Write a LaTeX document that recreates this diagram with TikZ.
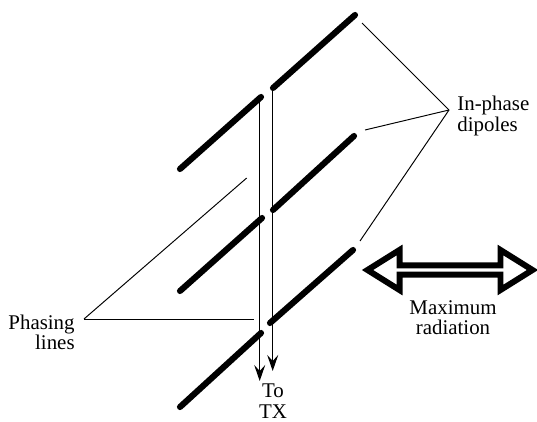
\documentclass[tikz,border=0pt]{standalone}
\usepackage{fontspec}
\setmainfont{Liberation Serif}
\usetikzlibrary{arrows.meta, shapes.arrows}

\begin{document}
\begin{tikzpicture}[
    x=0.02cm, y=-0.02cm,
    font=\fontsize{11.9}{11.6}\selectfont,
    dipole/.style={line width=3.5pt, line cap=round},
    feeder/.style={-{Stealth[length=0.32cm, width=0.22cm, inset=0.12cm]}, line width=0.75pt},
    leader/.style={line width=0.55pt},
    caption/.style={align=center, inner sep=0pt},
    radiation/.style={double arrow, draw, line width=3.4pt, fill=white, inner sep=0pt, minimum width=0.8cm, minimum height=3.3cm, double arrow head extend=0.2cm, double arrow tip angle=64}
]
\useasboundingbox (0,0) rectangle (537,422);

% Dipole ends
\coordinate (top1) at (180,169);
\coordinate (top2) at (261,97);
\coordinate (top3) at (273,88);
\coordinate (top4) at (355,15);
\coordinate (mid1) at (180,291);
\coordinate (mid2) at (262,218);
\coordinate (mid3) at (273,210);
\coordinate (mid4) at (354,136);
\coordinate (low1) at (180,407);
\coordinate (low2) at (261,333);
\coordinate (low3) at (270,323);
\coordinate (low4) at (353,250);

% Labels
\node[caption, anchor=west, align=left] (dipoles) at (457,116) {In-phase\\dipoles};
\node[caption, anchor=east, align=right] (phasing) at (75,332.5) {Phasing\\lines};
\node[caption] (max) at (453,317.5) {Maximum\\radiation};
\node[caption] (tx) at (273,401) {To\\TX};
\node[radiation] (beam) at (450,270) {};

% Leader ends
\coordinate (fork) at (449,110);
\coordinate (forkA) at (362,23);
\coordinate (forkB) at (365,130);
\coordinate (forkC) at (360,241);
\coordinate (phase) at (84,319);
\coordinate (phaseA) at (246.7,178);
\coordinate (phaseB) at (254,319);

% Feeder ends
\coordinate (feedA) at (259.7,381);
\coordinate (feedB) at (272.7,371);
\coordinate (feedA0) at (259.7,97);
\coordinate (feedB0) at (272.7,88);

% Feeders
\draw[feeder] (feedA0) -- (feedA);
\draw[feeder] (feedB0) -- (feedB);

% Dipoles
\draw[dipole] (top1) -- (top2);
\draw[dipole] (top3) -- (top4);
\draw[dipole] (mid1) -- (mid2);
\draw[dipole] (mid3) -- (mid4);
\draw[dipole] (low1) -- (low2);
\draw[dipole] (low3) -- (low4);

% Leaders
\draw[leader] (fork) -- (forkA);
\draw[leader] (fork) -- (forkB);
\draw[leader] (fork) -- (forkC);
\draw[leader] (phase) -- (phaseA);
\draw[leader] (phase) -- (phaseB);

\end{tikzpicture}
\end{document}
